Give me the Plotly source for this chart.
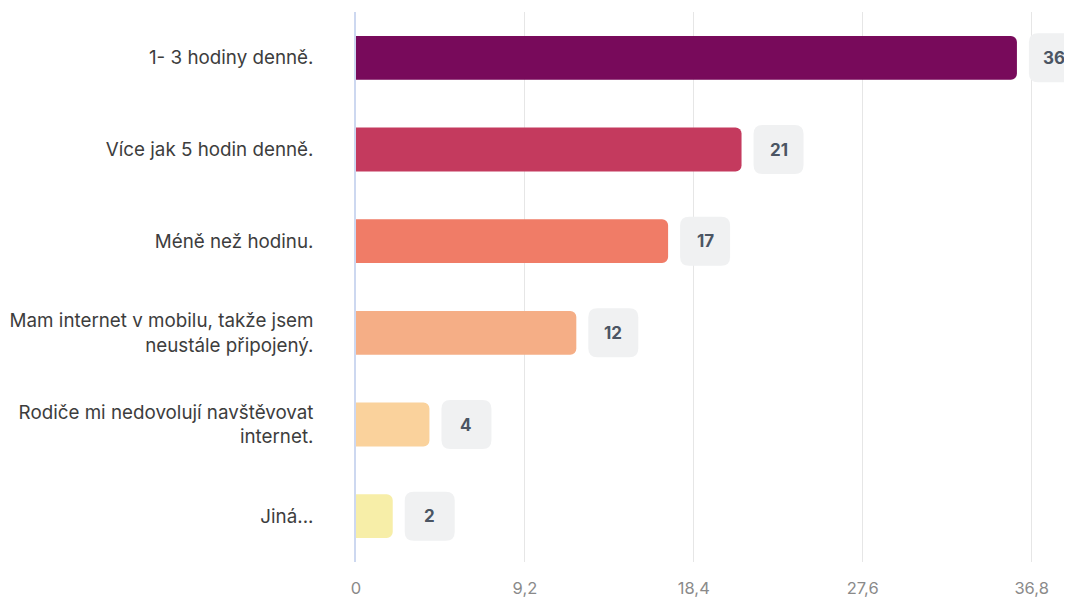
import plotly.graph_objects as go

categories = [
    "1- 3 hodiny denně.",
    "Více jak 5 hodin denně.",
    "Méně než hodinu.",
    "Mam internet v mobilu, takže jsem<br>neustále připojený.",
    "Rodiče mi nedovolují navštěvovat<br>internet.",
    "Jiná...",
]
values = [36, 21, 17, 12, 4, 2]
colors = ["#780a5b", "#c43a5e", "#f07c67", "#f5ae86", "#fad29c", "#f7eea8"]
x_tickvals = [0, 9.2, 18.4, 27.6, 36.8]
x_ticktext = ["0", "9,2", "18,4", "27,6", "36,8"]

positions = list(range(len(categories)))

fig = go.Figure()
fig.add_trace(go.Bar(
    x=values, y=positions, orientation="h",
    marker=dict(color=colors, line=dict(width=0)),
    width=0.478, hoverinfo="skip",
))

def rounded_rect(x0, x1, y0, y1, r):
    return (f"M{x0+r},{y0} L{x1-r},{y0} Q{x1},{y0} {x1},{y0+r} "
            f"L{x1},{y1-r} Q{x1},{y1} {x1-r},{y1} L{x0+r},{y1} "
            f"Q{x0},{y1} {x0},{y1-r} L{x0},{y0+r} Q{x0},{y0} {x0+r},{y0} Z")

shapes = []
annotations = []
for p, v in zip(positions, values):
    shapes.append(dict(
        type="path", xref="x", yref="y",
        xsizemode="pixel", ysizemode="pixel",
        xanchor=v, yanchor=p,
        path=rounded_rect(12, 62, -24.5, 24.5, 9),
        fillcolor="#f0f1f2", line=dict(width=0), layer="above",
    ))
    annotations.append(dict(
        x=v, y=p, xref="x", yref="y", xshift=37,
        text=f"<b>{v}</b>", showarrow=False,
        font=dict(family="Inter", size=17, color="#4b5563"),
        xanchor="center", yanchor="middle",
    ))

fig.update_layout(
    width=1064, height=590,
    margin=dict(l=348, r=0, t=4, b=34),
    paper_bgcolor="white", plot_bgcolor="white",
    barcornerradius=6,
    showlegend=False,
    shapes=shapes, annotations=annotations,
    font=dict(family="Inter", color="#3d3d3d"),
    xaxis=dict(
        range=[0, 39], tickvals=x_tickvals, ticktext=x_ticktext,
        showgrid=True, gridcolor="#e6e6e6", gridwidth=1,
        zeroline=False, showline=False,
        tickfont=dict(family="Inter", size=16.5, color="#8a8a8a"),
        ticks="", ticklabelstandoff=14,
        fixedrange=True,
    ),
    yaxis=dict(
        range=[5.5, -0.5], tickvals=positions, ticktext=categories,
        showgrid=False, zeroline=False,
        showline=True, linecolor="#cdd8f0", linewidth=1.5,
        tickfont=dict(family="Inter", size=18.8, color="#3d3d3d"),
        ticks="", ticklabelstandoff=37,
        automargin=False, fixedrange=True,
    ),
)

fig.write_html("out.html")
